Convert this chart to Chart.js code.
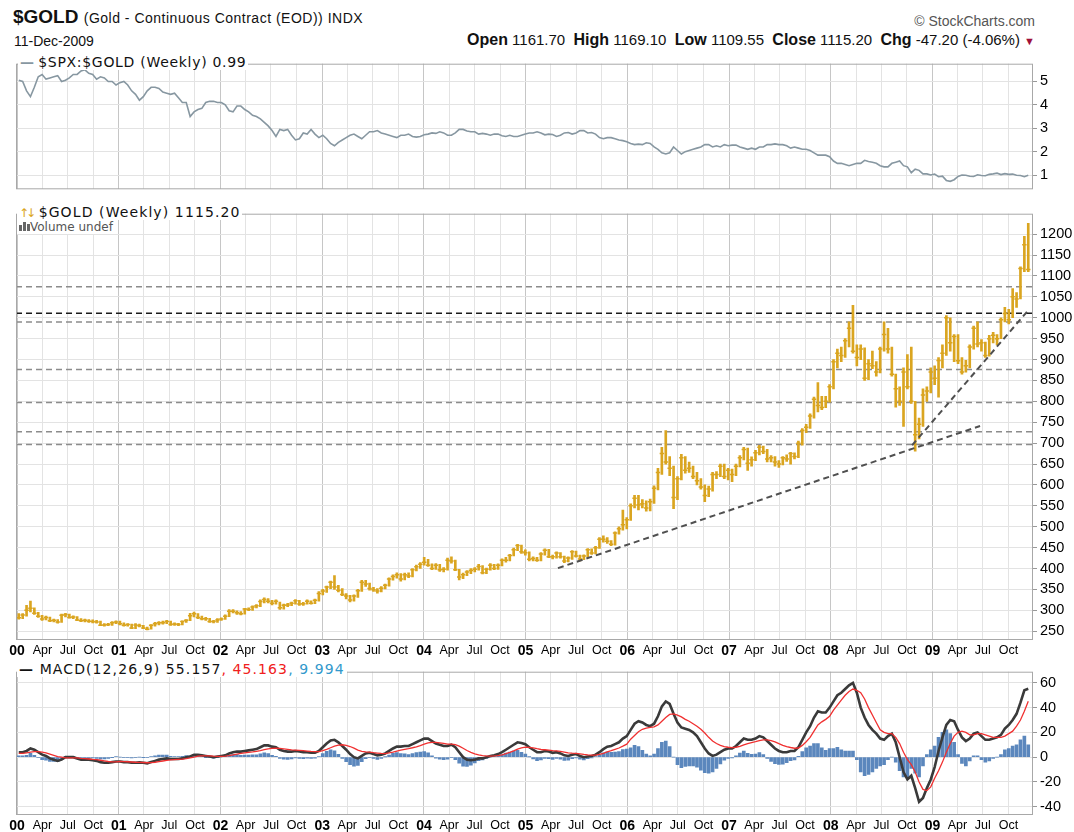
<!DOCTYPE html>
<html>
<head>
<meta charset="utf-8">
<script src="https://cdn.jsdelivr.net/npm/chart.js@4.4.1/dist/chart.umd.min.js"></script>
<style>
  body { margin: 0; background: #fff; }
  #wrap { position: relative; width: 1074px; height: 832px; overflow: hidden; font-family: "Liberation Sans", Arial, sans-serif; }
  canvas { position: absolute; left: 0; }
  .txt { position: absolute; white-space: nowrap; color: #111; }
  .leg { position: absolute; white-space: nowrap; background: #fff; font-family: "DejaVu Sans", sans-serif; color: #111; padding: 0 2px 0 2px; }
  .hdr b { font-size: 16px; }
</style>
</head>
<body>
<div id="wrap">
  <div class="txt" style="left:13px;top:6px;font:bold 19px 'Liberation Sans';">$GOLD <span style="font:14px 'Liberation Sans';letter-spacing:0.5px;">(Gold - Continuous Contract (EOD)) INDX</span></div>
  <div class="txt" style="left:14px;top:33px;font:14px 'Liberation Sans';">11-Dec-2009</div>
  <div class="txt" style="right:39px;top:13px;font:14px 'Liberation Sans';color:#555;">&copy; StockCharts.com</div>
  <div class="txt hdr" style="right:39px;top:31px;font:15px 'Liberation Sans';"><b>Open</b> 1161.70&nbsp; <b>High</b> 1169.10&nbsp; <b>Low</b> 1109.55&nbsp; <b>Close</b> 1115.20&nbsp; <b>Chg</b> -47.20 (-4.06%) <span style="color:#a0103a;font-size:11px;">&#9660;</span></div>

  <canvas id="ratioChart" width="1074" height="149" style="top:52px"></canvas>
  <canvas id="goldChart" width="1074" height="456" style="top:202px"></canvas>
  <canvas id="macdChart" width="1074" height="172" style="top:660px"></canvas>

  <div class="leg" style="left:18px;top:54px;font-size:14px;letter-spacing:0.7px;"><span style="color:#8797a1;font-weight:bold;">&mdash;</span>&thinsp;$SPX:$GOLD (Weekly) 0.99</div>
  <div class="leg" style="left:17px;top:204px;font-size:14px;letter-spacing:1.1px;"><span style="color:#daa520;font-size:12px;letter-spacing:-3px;">&#8593;&#8595;</span>&nbsp;$GOLD (Weekly) 1115.20</div>
  <div class="leg" style="left:17px;top:220px;font-size:12px;color:#555;">
    <span style="display:inline-block;width:3px;height:6px;background:#666;"></span><span style="display:inline-block;width:3px;height:9px;background:#666;margin-left:1px;"></span><span style="display:inline-block;width:3px;height:7px;background:#666;margin-left:1px;"></span>Volume undef</div>
  <div class="leg" style="left:17px;top:661px;font-size:14px;letter-spacing:1.1px;"><span style="font-weight:bold;">&mdash;</span> MACD(12,26,9) 55.157<span style="color:#f02020;">, 45.163</span><span style="color:#3399cc;">, 9.994</span></div>
</div>

<script>
// ---- data: two-week bars, last bar 11-Dec-2009 ----
const lastBarDate = '2009-12-11';
const barStepDays = 14;

const yearLabels = ['00', '01', '02', '03', '04', '05', '06', '07', '08', '09'];
const quarterLabels = ['Apr', 'Jul', 'Oct'];
const ratioTicks = [1, 2, 3, 4, 5];
const goldTicks = [250, 300, 350, 400, 450, 500, 550, 600, 650, 700, 750, 800, 850, 900, 950, 1000, 1050, 1100, 1150, 1200];
const macdTicks = [-40, -20, 0, 20, 40, 60];

// $GOLD bars (low / high / close)
const goldLow = [
  279,280,286,296,290,283,276,277,273,272,269,271,284,281,280,275,273,272,271,270,269,263,262,263,264,268,
  265,262,262,256,256,260,256,253,255,262,265,267,268,264,264,263,265,271,275,284,280,277,276,271,270,271,
  276,278,285,294,290,289,291,299,300,306,309,318,318,313,315,302,303,309,311,315,312,312,315,315,316,322,
  337,343,352,350,344,335,327,320,322,331,345,357,348,345,341,344,351,358,372,377,370,373,378,380,394,400,
  408,405,397,398,393,392,396,413,395,373,376,383,388,392,396,387,388,396,397,398,406,415,418,430,443,436,432,
  418,418,417,418,432,426,423,425,425,414,416,422,427,418,421,428,434,435,448,463,460,455,456,482,492,495,
  515,545,540,545,537,538,556,588,625,650,622,543,565,612,628,630,615,600,590,560,572,585,615,620,615,612,
  608,622,643,660,635,645,658,672,675,655,655,645,642,648,656,650,662,665,695,725,735,760,775,780,785,798,
  830,880,895,905,930,915,885,900,850,852,878,860,868,920,915,860,786,790,740,830,795,681,710,740,800,820,
  840,810,880,910,920,895,890,865,870,880,925,930,920,905,908,940,935,950,990,985,1000,1025,1045,1110,1110
];
const goldHigh = [
  292,292,312,322,306,295,288,286,284,279,278,291,293,291,287,285,280,279,278,277,276,274,268,269,273,275,
  274,270,268,267,268,267,264,260,266,271,273,274,276,274,270,269,275,278,293,296,292,286,283,281,276,280,
  282,289,302,302,299,297,305,306,311,314,325,330,328,324,325,320,315,317,320,326,324,319,325,323,327,345,
  350,358,370,383,360,352,340,336,337,350,372,372,365,355,352,357,363,378,385,390,388,389,390,400,408,414,
  427,422,411,412,410,402,425,428,420,398,389,395,400,402,410,407,401,412,410,411,423,427,434,449,458,456,445,
  440,428,427,438,447,446,432,440,438,430,428,443,442,432,433,448,447,453,474,478,474,467,488,500,540,522,
  555,575,575,565,562,566,598,640,690,730,668,645,620,673,668,655,645,630,615,600,597,630,632,650,650,640,
  638,650,670,690,688,667,683,695,693,685,670,668,658,668,672,678,677,705,735,745,770,810,845,812,812,840,
  900,925,930,950,990,1030,935,935,928,900,920,895,930,990,975,930,865,835,880,912,930,800,760,830,835,880,
  885,905,935,1005,1000,960,960,905,898,935,980,990,948,942,958,965,960,1000,1025,1020,1070,1060,1122,1195,1226
];
const goldClose = [
  282,289,300,305,293,286,279,283,275,276,272,288,290,283,284,277,275,276,274,273,272,264,265,266,270,272,
  268,264,266,258,265,263,258,255,264,268,270,270,273,266,267,266,273,276,287,292,283,280,280,273,273,277,
  279,286,298,298,294,292,303,302,308,311,321,326,322,317,322,306,312,313,317,323,315,316,322,317,324,340,
  346,356,367,356,348,338,334,325,334,347,367,363,352,349,346,353,360,375,381,385,375,385,382,397,404,410,
  415,408,400,408,397,398,420,418,397,380,385,392,395,398,405,390,398,408,400,408,420,420,431,445,455,440,438,
  422,424,420,435,444,428,428,437,428,418,425,440,430,423,430,445,437,450,470,470,465,458,485,495,505,517,
  550,568,552,555,545,560,592,630,675,655,640,570,615,665,635,640,620,610,595,575,590,625,625,645,620,635,
  625,645,665,685,652,660,677,690,680,662,665,655,650,665,662,675,668,700,730,738,765,805,790,785,800,835,
  895,915,910,945,975,920,905,925,855,890,885,870,925,960,925,865,830,800,870,835,800,720,745,815,825,870,
  855,898,915,1000,940,955,897,870,885,930,975,937,940,910,950,958,950,995,1010,995,1050,1045,1118,1175,1115.2
];

// $SPX:$GOLD ratio
const spxGoldRatio = [
  5.05,5.0,4.6,4.35,4.75,5.2,5.3,5.1,5.15,5.2,5.25,5.0,5.05,5.15,5.3,5.3,5.45,5.5,5.35,5.3,5.1,5.2,5.15,5.0,5.0,4.85,
  4.95,5.0,4.85,4.6,4.45,4.2,4.35,4.6,4.75,4.75,4.7,4.55,4.5,4.45,4.5,4.3,4.1,4.1,3.5,3.7,3.8,3.85,4.1,4.15,4.15,4.1,
  4.1,4.0,3.75,3.7,3.95,3.95,3.8,3.7,3.55,3.5,3.4,3.25,3.1,2.9,2.65,2.95,2.9,2.95,2.7,2.5,2.55,2.8,2.75,2.95,2.75,2.6,
  2.7,2.55,2.35,2.25,2.4,2.5,2.6,2.7,2.75,2.65,2.55,2.7,2.85,2.85,2.9,2.8,2.75,2.7,2.65,2.6,2.7,2.7,2.75,2.65,2.62,2.65,
  2.72,2.75,2.8,2.78,2.85,2.8,2.7,2.7,2.8,2.95,2.95,2.88,2.85,2.85,2.75,2.78,2.75,2.7,2.75,2.75,2.68,2.65,2.7,2.65,2.65,2.7,2.75,
  2.8,2.8,2.85,2.8,2.72,2.75,2.73,2.65,2.7,2.8,2.82,2.75,2.8,2.9,2.9,2.8,2.82,2.75,2.6,2.55,2.6,2.6,2.55,2.5,2.47,2.42,
  2.35,2.3,2.32,2.3,2.38,2.35,2.2,2.1,1.95,1.9,1.95,2.2,2.05,1.9,2.0,2.05,2.1,2.15,2.2,2.3,2.3,2.2,2.25,2.2,2.3,2.25,
  2.28,2.28,2.2,2.15,2.1,2.15,2.1,2.2,2.2,2.3,2.3,2.33,2.3,2.3,2.25,2.15,2.2,2.15,2.1,2.1,2.05,1.95,1.85,1.85,1.85,1.78,
  1.6,1.5,1.5,1.45,1.4,1.45,1.5,1.5,1.63,1.58,1.55,1.5,1.4,1.35,1.35,1.5,1.55,1.6,1.4,1.35,1.1,1.25,1.2,1.05,1.05,1.0,
  1.04,0.93,0.95,0.77,0.73,0.8,0.94,1.0,0.99,0.95,0.94,1.01,0.98,0.97,1.03,1.05,1.08,1.02,1.06,1.03,1.04,0.99,0.98,0.93,0.99
];

// MACD(12,26,9)
const macdLine = [
  4,4,5,7,6,4,2,1,-1,-2,-3,-2,0,0,0,-1,-2,-2,-2,-2.5,-3,-4,-4.5,-4.5,-4,-3.5,
  -3.5,-4,-4,-4.5,-4.5,-4.2,-4.5,-5,-4,-3,-2,-1.5,-1,-1.5,-1.5,-1.5,-1,0,0.5,2,2,1.5,1,0.5,0,0.5,
  1,1.5,3,4,4.5,4.5,5,5.5,6,6.5,8,9.5,9.5,8.5,8,6,5,4.5,4.5,5,4.5,4,4,3.5,3.5,5,
  8,11,13.5,14,12,9,6,2.5,0,-1,1,3,3.5,2.5,1.5,2,3,5,7,8.5,8.5,9,9,10.5,12,13.5,
  15,15,13,11,10,9,9,10,8,4,0,-2,-2.5,-2,-1,-1,0,1,1.5,2.5,4,6,8,10,12,11.5,10.5,
  8,6,4,4,5,4.5,3.5,4,3,1.5,1,2,2.5,1,0,0.5,1,2,4,6.5,8.5,9,10.5,12,15,17,
  22,27,29,28,26,25,27,33,41,45,43,35,28,24,23,22,20,17,12,7,3,1,2,4,6,7,
  7,9,12,15,14,14,15,17,16,13,10,7,5,4,4,5,5,8,14,20,25,32,37,36,36,40,
  45,50,52,55,58,60,52,40,32,26,22,19,15,14,17,19,12,0,-12,-18,-15,-25,-36,-33,-25,-18,
  -8,5,16,26,30,29,22,16,13,15,19,20,17,14,14,15,16,18,23,26,30,35,44,54,55.157
];
const macdSignal = [
  3,3,3.5,4,4.5,4.5,4,3.5,2.5,1.5,0.5,0,-0.5,-0.5,-0.5,-0.5,-1,-1.2,-1.5,-1.8,-2,-2.5,-3,-3.5,-3.8,-3.8,
  -3.5,-3.6,-3.7,-3.9,-4.1,-4.2,-4.3,-4.5,-4.4,-4.1,-3.6,-3.1,-2.6,-2.2,-2,-1.8,-1.6,-1.2,-0.6,0.1,0.8,1.1,1.1,1,0.8,0.7,
  0.7,0.9,1.3,1.9,2.5,3,3.4,3.8,4.2,4.7,5.3,6,6.7,7.1,7.3,7.1,6.7,6.3,5.9,5.7,5.5,5.2,4.9,4.6,4.4,4.5,
  5.2,6.3,7.6,8.9,9.8,10,9.6,8.6,7.3,5.7,4.7,4.2,4,3.6,3.3,3,2.9,3.4,4,4.8,5.6,6.3,6.9,7.6,8.4,9.3,
  10.5,11.5,12,11.9,11.6,11.1,10.6,10.5,10.1,8.9,7.2,5.4,3.9,2.7,1.9,1.2,1,0.9,1,1.3,1.9,2.8,3.9,5.1,6.5,7.5,8.1,
  7.9,7.5,6.8,6.2,6,5.7,5.3,5.1,4.7,4.1,3.5,3.2,3.1,2.7,2.2,1.8,1.6,1.7,2.2,3.1,4.2,5.2,6.3,7.4,8.9,10.5,
  14.5,17.5,20.5,22.5,23.5,24,24.5,26,29,32,34.5,35,34,32.5,30.5,29,27,25,22.5,19.5,16,13,11,9.5,8.5,8,
  7.7,8,8.7,10,11,11.8,12.5,13.4,14,14,13.4,12.3,10.9,9.6,8.5,7.8,7.2,7.4,9.5,12.5,16,21,26,28.5,30.5,33,
  38,42,46,50,53,55,54,52,47,40,34,28,22,20,19,19,16,11,4,-2,-6,-12,-20,-26,-27,-24,
  -17,-11,-4,4,11,17,20,21,20,18,18,19,19,18,17,16,16,16,17,19,21,25,30,37,45.163
];
const macdHist = [
  1,1,1.5,3,1.5,-0.5,-2,-2.5,-3.5,-3.5,-3.5,-2,0.5,0.5,0.5,-0.5,-1,-0.8,-0.5,-0.7,-1,-1.5,-1.5,-1,-0.2,0.3,
  0,-0.4,-0.3,-0.6,-0.4,0,-0.2,-0.5,0.4,1.1,1.6,1.6,1.6,0.7,0.5,0.3,0.6,1.2,1.1,1.9,1.2,0.4,-0.1,-0.5,-0.8,-0.2,
  0.3,0.6,1.7,2.1,2,1.5,1.6,1.7,1.8,1.8,2.7,3.5,2.8,1.4,0.7,-1.1,-1.7,-1.8,-1.4,-0.7,-1,-1.2,-0.9,-1.1,-0.9,0.5,
  2.8,4.7,5.9,5.1,2.2,-1,-3.6,-6.1,-7.3,-6.7,-3.7,-1.2,-0.5,-1.1,-1.8,-1,0.1,1.6,3,3.7,2.9,2.7,2.1,2.9,3.6,4.2,
  4.5,3.5,1,-0.9,-1.6,-2.1,-1.6,-0.5,-2.1,-4.9,-7.2,-7.4,-6.4,-4.7,-2.9,-2.2,-1,0.1,0.5,1.2,2.1,3.2,4.1,4.9,5.5,4,2.4,
  0.1,-1.5,-2.8,-2.2,-1,-1.2,-1.8,-1.1,-1.7,-2.6,-2.5,-1.2,-0.6,-1.7,-2.2,-1.3,-0.6,0.3,1.8,3.4,4.3,3.8,4.2,4.6,6.1,6.5,
  7.5,9.5,8.5,5.5,2.5,1,2.5,7,12,13,8.5,0,-6,-8.5,-7.5,-7,-7,-8,-10.5,-12.5,-13,-12,-9,-5.5,-2.5,-1,
  -0.7,1,3.3,5,3,2.2,2.5,3.6,2,-1,-3.4,-5.3,-5.9,-5.6,-4.5,-2.8,-2.2,0.6,4.5,7.5,9,11,11,7.5,5.5,7,
  7,8,6,5,5,5,-2,-12,-15,-14,-12,-9,-7,-6,-2,0,-4,-11,-16,-16,-9,-13,-16,-7,2,6,
  9,16,20,22,19,12,2,-5,-7,-3,1,1,-2,-4,-3,-1,0,2,6,7,9,10,14,17,9.994
];

// drawn lines on the price panel
const greyLevels = [1074, 990, 876, 797, 727, 697];
const blackLevel = 1011;
const trendDates = [['2005-04-27', '2009-06-21'], ['2008-10-20', '2009-12-15']];
const trendValues = [[401, 741], [695, 1021]];

// ---- helpers ----
const DAY = 864e5;
function toYear(ms) {
  const d = new Date(ms);
  const y = d.getUTCFullYear();
  const a = Date.UTC(y, 0, 1), b = Date.UTC(y + 1, 0, 1);
  return y + (ms - a) / (b - a);
}
const endMs = Date.parse(lastBarDate + 'T00:00:00Z');
const barX = goldLow.map((_, i) => toYear(endMs - (goldLow.length - 1 - i) * barStepDays * DAY));
const xStart = toYear(Date.UTC(1999, 11, 28));
const xEnd = toYear(Date.UTC(2009, 11, 28));

const xTickValues = [], xTickText = [];
yearLabels.forEach((lab, i) => {
  [0, 3, 6, 9].forEach((m, q) => {
    xTickValues.push(toYear(Date.UTC(2000 + i, m, 1)));
    xTickText.push(q === 0 ? lab : quarterLabels[q - 1]);
  });
});

const framePlugin = {
  id: 'frame',
  afterDraw(chart) {
    const a = chart.chartArea, c = chart.ctx;
    c.save();
    c.strokeStyle = '#a8a8a8';
    c.lineWidth = 1;
    c.strokeRect(a.left + 0.5, a.top + 0.5, a.right - a.left - 1, a.bottom - a.top - 1);
    c.restore();
  }
};

function xScale(showLabels, axisHeight) {
  return {
    type: 'linear', min: xStart, max: xEnd, offset: false,
    afterBuildTicks: s => { s.ticks = xTickValues.map(v => ({ value: v })); },
    afterFit: s => { s.height = axisHeight; },
    border: { display: false },
    grid: { offset: false, drawTicks: false, color: c => (c.index % 4 === 0 ? '#c6c6c6' : '#e3e3e3') },
    ticks: {
      display: showLabels, autoSkip: false, maxRotation: 0, padding: 3, color: '#000',
      font: c => (c.index % 4 === 0
        ? { family: 'Liberation Sans', size: 14, weight: 'bold' }
        : { family: 'Liberation Sans', size: 12.5 }),
      callback: (v, i) => xTickText[i]
    }
  };
}

function yScale(min, max, ticks) {
  return {
    position: 'right', min, max,
    afterBuildTicks: s => { s.ticks = ticks.map(v => ({ value: v })); },
    afterFit: s => { s.width = 41; },
    border: { display: false },
    grid: { color: '#e3e3e3', tickLength: 4, tickColor: '#999' },
    ticks: { padding: 3, color: '#000', font: { family: 'Liberation Sans', size: 14.5 }, callback: v => String(v) }
  };
}

function baseOptions(xAxisHeight, showX, yMin, yMax, yTicks) {
  return {
    responsive: false, animation: false, devicePixelRatio: 1,
    layout: { padding: { left: 16, right: 0, top: 0, bottom: 0 } },
    plugins: { legend: { display: false }, tooltip: { enabled: false } },
    scales: { x: xScale(showX, xAxisHeight), y: yScale(yMin, yMax, yTicks) }
  };
}

function flatLine(level, color) {
  return {
    type: 'line', data: [{ x: xStart, y: level }, { x: xEnd, y: level }],
    borderColor: color, borderWidth: 1.5, borderDash: [6, 4], pointRadius: 0, order: 5
  };
}

// ---- top panel: $SPX:$GOLD ----
new Chart(document.getElementById('ratioChart'), {
  type: 'line',
  data: {
    datasets: [{
      data: barX.map((x, i) => ({ x, y: spxGoldRatio[i] })),
      borderColor: '#8797a1', borderWidth: 1.6, pointRadius: 0, tension: 0
    }]
  },
  options: baseOptions(0, false, 0.39, 5.76, ratioTicks),
  plugins: [framePlugin]
});

// ---- middle panel: $GOLD bars ----
const goldSets = [
  {
    type: 'bar',
    data: barX.map((x, i) => ({ x, y: [goldLow[i], goldHigh[i]] })),
    backgroundColor: '#daa520', barThickness: 2, order: 2
  },
  {
    // close ticks of the bars
    type: 'line', showLine: false,
    data: barX.map((x, i) => ({ x, y: goldClose[i] })),
    pointStyle: 'line', pointRadius: 2.2, pointBorderWidth: 1.5,
    pointBorderColor: '#daa520', borderColor: '#daa520', order: 2
  }
];
greyLevels.forEach(v => goldSets.push(flatLine(v, '#8c8c8c')));
goldSets.push(flatLine(blackLevel, '#1a1a1a'));
trendDates.forEach((pair, k) => {
  goldSets.push({
    type: 'line',
    data: pair.map((d, j) => ({ x: toYear(Date.parse(d + 'T00:00:00Z')), y: trendValues[k][j] })),
    borderColor: '#505050', borderWidth: 2, borderDash: [6, 4], pointRadius: 0, order: 0
  });
});
new Chart(document.getElementById('goldChart'), {
  type: 'bar',
  data: { datasets: goldSets },
  options: baseOptions(18, true, 229, 1249, goldTicks),
  plugins: [framePlugin]
});

// ---- bottom panel: MACD ----
new Chart(document.getElementById('macdChart'), {
  type: 'bar',
  data: {
    datasets: [
      { type: 'line', data: barX.map((x, i) => ({ x, y: macdSignal[i] })), borderColor: '#f03030', borderWidth: 1.3, pointRadius: 0, order: 1 },
      { type: 'line', data: barX.map((x, i) => ({ x, y: macdLine[i] })), borderColor: '#3a3a3a', borderWidth: 2.6, pointRadius: 0, order: 2 },
      { type: 'bar', data: barX.map((x, i) => ({ x, y: macdHist[i] })), backgroundColor: '#5b87bd', barThickness: 3, order: 3 }
    ]
  },
  options: baseOptions(17, true, -46.7, 69, macdTicks),
  plugins: [framePlugin]
});
</script>
</body>
</html>
